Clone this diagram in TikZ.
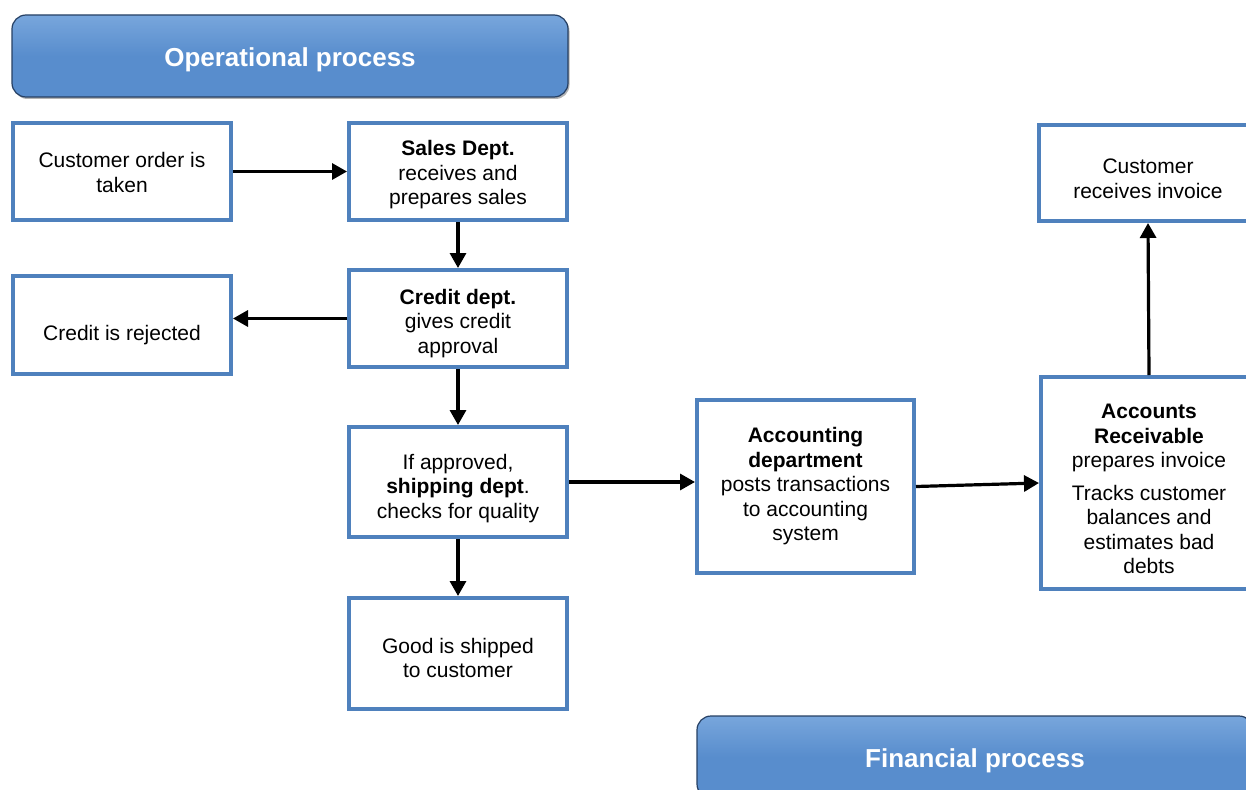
\documentclass[tikz,border=0pt]{standalone}
\usepackage{fontspec}
\setmainfont{Liberation Sans}
\usetikzlibrary{arrows.meta,shadows}
\definecolor{boxblue}{RGB}{79,129,189}
\definecolor{hdrblue}{RGB}{88,141,205}
\definecolor{hdrtop}{RGB}{120,166,220}
\definecolor{hdrdark}{RGB}{38,64,100}
\newcommand\dn[1]{\rule{0pt}{#1}}
\begin{document}
\begin{tikzpicture}[x=1pt,y=-1pt,
  box/.style={draw=boxblue,line width=4pt,fill=white,align=center,inner sep=0pt,
    font=\fontsize{21}{24.5}\selectfont},
  hdr/.style={draw=hdrdark,line width=1.2pt,rounded corners=14pt,
    top color=hdrtop,bottom color=hdrblue,middle color=hdrblue,
    drop shadow={shadow xshift=1.5pt,shadow yshift=-2pt,opacity=0.6},
    text=white,font=\fontsize{26}{30}\selectfont\bfseries,
    minimum width=556pt,minimum height=82pt},
  arr/.style={line width=3.2pt,-{Triangle[length=15pt,width=16pt]}}]
\useasboundingbox (0,0) rectangle (1246,789);
\clip (0,0) rectangle (1246,789);

\node[hdr] (op) at (290,56) {\dn{27pt}Operational process};
\node[hdr] (fin) at (975,757) {\dn{27pt}Financial process};

\node[box,minimum width=218pt,minimum height=97pt] (order) at (122,171.5)
  {\dn{17pt}Customer order is\\taken};
\node[box,minimum width=218pt,minimum height=97pt] (sales) at (458,171.5)
  {\dn{22pt}\textbf{Sales Dept.}\\receives and\\prepares sales};
\node[box,minimum width=218pt,minimum height=98pt] (rej) at (122,325)
  {\dn{35pt}Credit is rejected};
\node[box,minimum width=218pt,minimum height=97pt] (credit) at (458,318.5)
  {\dn{25pt}\textbf{Credit dept.}\\gives credit\\approval};
\node[box,minimum width=218pt,minimum height=110pt] (ship) at (458,482)
  {\dn{28pt}If approved,\\\textbf{shipping dept}.\\checks for quality};
\node[box,minimum width=218pt,minimum height=111pt] (good) at (458,653.5)
  {\dn{24pt}Good is shipped\\to customer};
\node[box,minimum width=217pt,minimum height=173pt] (acct) at (805.5,486.5)
  {\textbf{Accounting}\\\textbf{department}\\posts transactions\\to accounting\\system};
\node[box,minimum width=216pt,minimum height=212pt] (ar) at (1149,483)
  {\dn{27pt}\textbf{Accounts}\\\textbf{Receivable}\\prepares invoice\\[8pt]
   Tracks customer\\balances and\\estimates bad\\debts};
\node[box,minimum width=218pt,minimum height=96pt] (cust) at (1148,173)
  {\dn{26pt}Customer\\receives invoice};

\draw[arr] (order.east) -- (sales.west |- order.east);
\draw[arr] (sales.south) -- (credit.north);
\draw[arr] (credit.west) -- (credit.west -| rej.east);
\draw[arr] (credit.south) -- (ship.north);
\draw[arr] (ship.south) -- (good.north);
\draw[arr] (ship.east) -- (ship.east -| acct.west);
\draw[arr] (acct.east) -- (ar.west);
\draw[arr] (ar.north) -- (cust.south);
\end{tikzpicture}
\end{document}
